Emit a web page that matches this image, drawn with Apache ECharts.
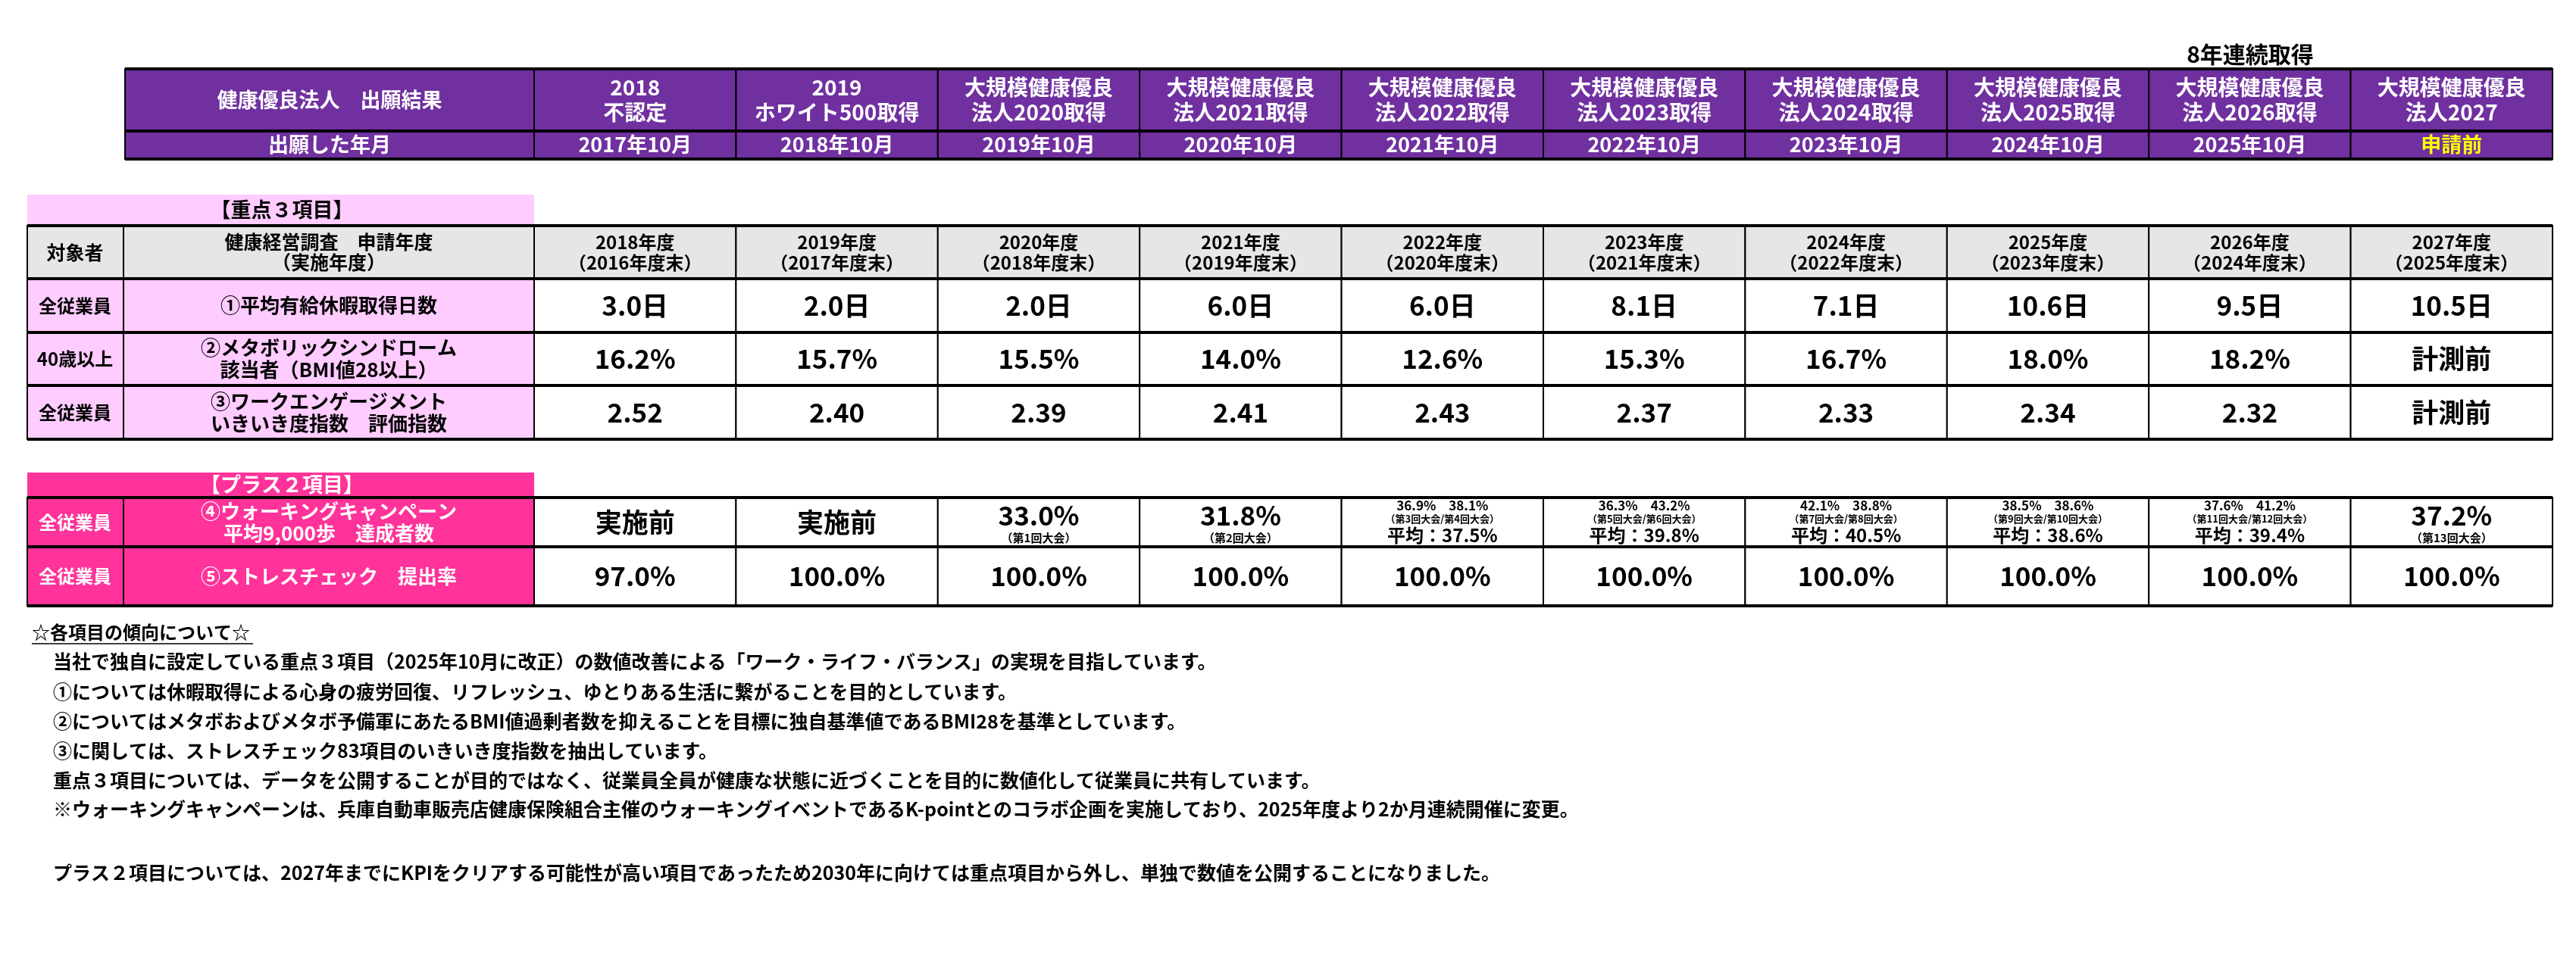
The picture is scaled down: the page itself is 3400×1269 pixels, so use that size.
<!DOCTYPE html>
<html><head><meta charset="utf-8">
<script src="https://cdn.jsdelivr.net/npm/echarts@6/dist/echarts.min.js"></script>
<style>html,body{margin:0;padding:0;background:#fff}#c{width:3400px;height:1269px}</style>
</head><body><div id="c"></div>
<script>
const certTitles=['2018\n不認定','2019\nホワイト500取得','大規模健康優良\n法人2020取得','大規模健康優良\n法人2021取得','大規模健康優良\n法人2022取得','大規模健康優良\n法人2023取得','大規模健康優良\n法人2024取得','大規模健康優良\n法人2025取得','大規模健康優良\n法人2026取得','大規模健康優良\n法人2027'];
const applyDates=['2017年10月','2018年10月','2019年10月','2020年10月','2021年10月','2022年10月','2023年10月','2024年10月','2025年10月','申請前'];
const fiscalYears=['2018年度\n（2016年度末）','2019年度\n（2017年度末）','2020年度\n（2018年度末）','2021年度\n（2019年度末）','2022年度\n（2020年度末）','2023年度\n（2021年度末）','2024年度\n（2022年度末）','2025年度\n（2023年度末）','2026年度\n（2024年度末）','2027年度\n（2025年度末）'];
const targets3=['全従業員','40歳以上','全従業員'];
const items3=['①平均有給休暇取得日数','②メタボリックシンドローム\n該当者（BMI値28以上）','③ワークエンゲージメント\nいきいき度指数　評価指数'];
const leaveDays=['3.0日','2.0日','2.0日','6.0日','6.0日','8.1日','7.1日','10.6日','9.5日','10.5日'];
const metabo=['16.2%','15.7%','15.5%','14.0%','12.6%','15.3%','16.7%','18.0%','18.2%','計測前'];
const engagement=['2.52','2.40','2.39','2.41','2.43','2.37','2.33','2.34','2.32','計測前'];
const targets2=['全従業員','全従業員'];
const items2=['④ウォーキングキャンペーン\n平均9,000歩　達成者数','⑤ストレスチェック　提出率'];
const walkPair=['','','','','36.9%　38.1%','36.3%　43.2%','42.1%　38.8%','38.5%　38.6%','37.6%　41.2%',''];
const walkRounds=['','','（第1回大会）','（第2回大会）','（第3回大会/第4回大会）','（第5回大会/第6回大会）','（第7回大会/第8回大会）','（第9回大会/第10回大会）','（第11回大会/第12回大会）','（第13回大会）'];
const walkMain=['実施前','実施前','33.0%','31.8%','平均：37.5%','平均：39.8%','平均：40.5%','平均：38.6%','平均：39.4%','37.2%'];
const stress=['97.0%','100.0%','100.0%','100.0%','100.0%','100.0%','100.0%','100.0%','100.0%','100.0%'];
const notesTitle='☆各項目の傾向について☆';
const notes=['当社で独自に設定している重点３項目（2025年10月に改正）の数値改善による「ワーク・ライフ・バランス」の実現を目指しています。','①については休暇取得による心身の疲労回復、リフレッシュ、ゆとりある生活に繋がることを目的としています。','②についてはメタボおよびメタボ予備軍にあたるBMI値過剰者数を抑えることを目標に独自基準値であるBMI28を基準としています。','③に関しては、ストレスチェック83項目のいきいき度指数を抽出しています。','重点３項目については、データを公開することが目的ではなく、従業員全員が健康な状態に近づくことを目的に数値化して従業員に共有しています。','※ウォーキングキャンペーンは、兵庫自動車販売店健康保険組合主催のウォーキングイベントであるK-pointとのコラボ企画を実施しており、2025年度より2か月連続開催に変更。','','プラス２項目については、2027年までにKPIをクリアする可能性が高い項目であったため2030年に向けては重点項目から外し、単独で数値を公開することになりました。'];

const FF='"Noto Sans CJK JP", sans-serif';
const PURPLE='#7030A0',PINK='#FFCCFF',MAG='#FF3399',GRAY='#E6E6E6';
const X0=705,CW=266.4,RIGHT=X0+10*CW;
const els=[];
function rect(x,y,w,h,fill,lw){els.push({type:'rect',shape:{x,y,width:w,height:h},style:{fill:fill,stroke:'#000',lineWidth:lw||2},z:1});}
function txt(cx,cy,t,size,color,lh,z){els.push({type:'text',x:cx,y:cy,z:z||5,style:{text:t,fill:color||'#000',font:'bold '+size+'px '+FF,align:'center',verticalAlign:'middle',lineHeight:lh||Math.round(size*1.2)}});}
function hline(x1,x2,y,lw){els.push({type:'line',shape:{x1,y1:y,x2,y2:y},style:{stroke:'#000',lineWidth:lw},z:3});}

// Top table
txt(2970,72,'8年連続取得',30);
rect(165,91,RIGHT-165,82,PURPLE,2);rect(165,173,RIGHT-165,37,PURPLE,2);
txt(435,132,'健康優良法人　出願結果',27,'#fff');txt(435,191,'出願した年月',27,'#fff');
for(let i=0;i<10;i++){const x=X0+i*CW;rect(x,91,CW,82,PURPLE,2);rect(x,173,CW,37,PURPLE,2);
 txt(x+CW/2,132,certTitles[i],28,'#fff',33);txt(x+CW/2,191,applyDates[i],27,i===9?'#FFFF00':'#fff');}
hline(165,RIGHT,91,4);hline(165,RIGHT,173,4);hline(165,RIGHT,210,4);

// Section 1
els.push({type:'rect',shape:{x:36,y:257,width:669,height:40},style:{fill:PINK},z:1});
txt(372,277,'【重点３項目】',27);
rect(36,298,127,70,GRAY);rect(163,298,542,70,GRAY);
txt(99,333,'対象者',25);txt(434,333,'健康経営調査　申請年度\n（実施年度）',25,'#000',27);
const rows3=[leaveDays,metabo,engagement];const ys3=[368,439,509,580];
for(let i=0;i<10;i++){const x=X0+i*CW;rect(x,298,CW,70,GRAY);txt(x+CW/2,333,fiscalYears[i],24,'#000',27);}
for(let r=0;r<3;r++){const y=ys3[r],h=ys3[r+1]-y;rect(36,y,127,h,PINK);rect(163,y,542,h,PINK);
 txt(99,y+h/2,targets3[r],24);txt(434,y+h/2,items3[r],26,'#000',29);
 for(let i=0;i<10;i++){const x=X0+i*CW;rect(x,y,CW,h,'#fff');txt(x+CW/2,y+h/2,rows3[r][i],35);}}
[298,368,439,509,580].forEach(y=>hline(36,RIGHT,y,4));

// Section 2
els.push({type:'rect',shape:{x:36,y:624,width:669,height:33},style:{fill:MAG},z:1});
txt(372,640,'【プラス２項目】',27,'#fff');
const ys2=[657,722,800];
for(let r=0;r<2;r++){const y=ys2[r],h=ys2[r+1]-y;rect(36,y,127,h,MAG);rect(163,y,542,h,MAG);
 txt(99,y+h/2,targets2[r],24,'#fff');txt(434,y+h/2,items2[r],26,'#fff',29);}
for(let i=0;i<10;i++){const x=X0+i*CW,cx=x+CW/2;rect(x,657,CW,65,'#fff');rect(x,722,CW,78,'#fff');
 txt(cx,761,stress[i],35);
 if(walkPair[i]){txt(cx,668,walkPair[i],17);txt(cx,685,walkRounds[i],13);txt(cx,707,walkMain[i],24);}
 else if(walkRounds[i]){txt(cx,681,walkMain[i],35);txt(cx,710,walkRounds[i],15);}
 else txt(cx,690,walkMain[i],35);}
[657,722,800].forEach(y=>hline(36,RIGHT,y,4));

// Notes
els.push({type:'text',x:42,y:835,z:5,style:{text:notesTitle,fill:'#000',font:'bold 24px '+FF,align:'left',verticalAlign:'middle'}});
hline(42,334,850,1.5);
const ny=[873,913,952,991,1030,1068,1110,1152];
notes.forEach((t,k)=>{if(t)els.push({type:'text',x:70,y:ny[k],z:5,style:{text:t,fill:'#000',font:'bold 25px '+FF,align:'left',verticalAlign:'middle'}});});

const chart=echarts.init(document.getElementById('c'));
chart.setOption({backgroundColor:'#fff',graphic:{elements:els}});
</script></body></html>
